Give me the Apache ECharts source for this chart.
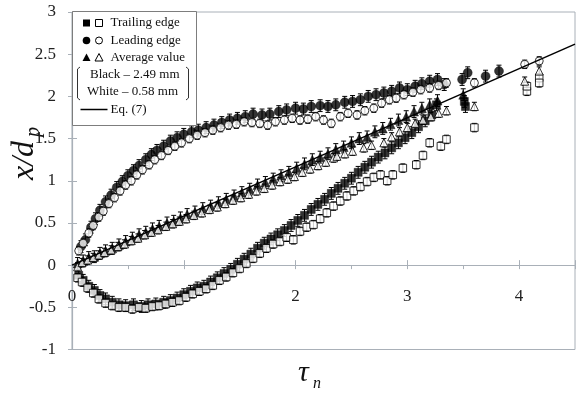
<!DOCTYPE html>
<html>
<head>
<meta charset="utf-8">
<script src="https://cdn.jsdelivr.net/npm/echarts@6/dist/echarts.min.js"></script>
<style>
  html, body { margin: 0; padding: 0; background: #fff; }
  #chart { width: 578px; height: 399px; }
</style>
</head>
<body>
<div id="chart"></div>
<script>
// Front positions x/d_p against normalised time tau_n
// Black markers: 2.49 mm particles, white markers: 0.58 mm particles

const xTickLabels = { 0: '0', 2: '2', 3: '3', 4: '4' };

// Trailing edge (squares)
const trailingBlack = [
  [0.06,-0.12],[0.10,-0.18],[0.15,-0.25],[0.20,-0.30],[0.25,-0.36],[0.30,-0.40],[0.36,-0.44],
  [0.42,-0.47],[0.48,-0.48],[0.55,-0.47],[0.62,-0.49],[0.68,-0.47],[0.75,-0.46],[0.82,-0.44],
  [0.88,-0.42],[0.94,-0.39],[1.00,-0.35],[1.06,-0.31],[1.12,-0.27],[1.18,-0.25],[1.24,-0.20],
  [1.30,-0.15],[1.36,-0.10],[1.42,-0.05],[1.48,0.01],[1.54,0.07],[1.60,0.13],[1.66,0.20],
  [1.72,0.26],[1.78,0.31],[1.84,0.36],[1.90,0.41],[1.96,0.47],[2.02,0.53],[2.08,0.59],
  [2.14,0.66],[2.20,0.72],[2.26,0.78],[2.32,0.85],[2.38,0.91],[2.44,0.97],[2.50,1.03],
  [2.56,1.10],[2.62,1.16],[2.68,1.22],[2.74,1.28],[2.80,1.33],[2.86,1.39],[2.92,1.45],
  [2.98,1.51],[3.04,1.57],[3.10,1.64],[3.16,1.71],[3.22,1.78],[3.26,1.90],[3.51,1.94],[3.52,1.88]
];
const trailingWhite = [
  [0.05,-0.15],[0.09,-0.20],[0.14,-0.27],[0.19,-0.33],[0.24,-0.40],[0.30,-0.45],[0.36,-0.48],
  [0.42,-0.50],[0.48,-0.50],[0.54,-0.52],[0.60,-0.50],[0.66,-0.51],[0.72,-0.49],[0.78,-0.48],
  [0.84,-0.46],[0.90,-0.44],[0.96,-0.42],[1.02,-0.38],[1.08,-0.34],[1.14,-0.31],[1.20,-0.28],
  [1.26,-0.24],[1.32,-0.18],[1.38,-0.14],[1.44,-0.09],[1.50,-0.04],[1.56,0.02],[1.62,0.08],
  [1.68,0.14],[1.74,0.20],[1.80,0.25],[1.86,0.28],[1.92,0.33],[1.98,0.30],[2.04,0.40],
  [2.10,0.45],[2.16,0.48],[2.22,0.55],[2.28,0.62],[2.34,0.70],[2.40,0.76],[2.46,0.82],
  [2.52,0.88],[2.58,0.93],[2.64,0.99],[2.70,1.04],[2.76,1.07],[2.82,1.00],[2.87,1.07],
  [2.96,1.15],[3.08,1.19],[3.14,1.30],[3.20,1.45],[3.30,1.41],[3.35,1.49],[3.60,1.63],
  [4.07,2.06],[4.07,2.12],[4.18,2.22],[4.18,2.16]
];

// Leading edge (circles)
const leadingBlack = [
  [0.08,0.22],[0.12,0.30],[0.17,0.45],[0.21,0.55],[0.25,0.65],[0.30,0.75],[0.35,0.83],
  [0.40,0.92],[0.45,0.99],[0.50,1.06],[0.55,1.12],[0.60,1.18],[0.66,1.25],[0.71,1.31],
  [0.76,1.36],[0.82,1.41],[0.88,1.47],[0.94,1.51],[1.00,1.55],[1.07,1.58],[1.13,1.60],
  [1.20,1.63],[1.27,1.66],[1.34,1.69],[1.41,1.72],[1.48,1.74],[1.55,1.76],[1.62,1.79],
  [1.70,1.78],[1.77,1.79],[1.85,1.82],[1.92,1.84],[2.00,1.86],[2.07,1.85],[2.14,1.88],
  [2.22,1.89],[2.29,1.88],[2.36,1.90],[2.44,1.93],[2.51,1.94],[2.58,1.96],[2.65,2.00],
  [2.72,2.02],[2.79,2.04],[2.86,2.06],[2.93,2.10],[3.00,2.08],[3.07,2.12],[3.13,2.15],
  [3.20,2.18],[3.27,2.20],[3.33,2.14],[3.49,2.20],[3.54,2.28],[3.70,2.24],[3.82,2.30]
];
const leadingWhite = [
  [0.06,0.17],[0.10,0.26],[0.15,0.38],[0.19,0.47],[0.24,0.57],[0.28,0.64],[0.33,0.73],
  [0.38,0.80],[0.43,0.88],[0.48,0.95],[0.53,1.00],[0.58,1.07],[0.63,1.13],[0.69,1.19],
  [0.74,1.25],[0.80,1.30],[0.86,1.36],[0.92,1.41],[0.98,1.45],[1.05,1.50],[1.12,1.54],
  [1.19,1.57],[1.26,1.60],[1.33,1.63],[1.40,1.66],[1.47,1.67],[1.54,1.70],[1.61,1.69],
  [1.68,1.68],[1.75,1.66],[1.82,1.70],[1.90,1.72],[1.97,1.74],[2.04,1.72],[2.11,1.73],
  [2.18,1.76],[2.25,1.72],[2.32,1.68],[2.40,1.76],[2.47,1.80],[2.55,1.78],[2.62,1.83],
  [2.70,1.86],[2.77,1.92],[2.84,1.96],[2.90,1.98],[2.97,2.02],[3.05,2.05],[3.12,2.08],
  [3.20,2.10],[3.28,2.13],[3.35,2.16],[3.60,2.16],[4.05,2.38],[4.18,2.42]
];

// Average value (triangles)
const averageBlack = [
  [0.05,0.02],[0.10,0.05],[0.15,0.09],[0.20,0.10],[0.25,0.14],[0.30,0.17],[0.36,0.20],
  [0.42,0.24],[0.48,0.28],[0.54,0.32],[0.60,0.36],[0.66,0.39],[0.72,0.43],[0.78,0.46],
  [0.85,0.50],[0.91,0.52],[0.97,0.56],[1.03,0.60],[1.10,0.63],[1.17,0.67],[1.24,0.70],
  [1.31,0.74],[1.38,0.78],[1.45,0.82],[1.52,0.86],[1.59,0.90],[1.66,0.95],[1.73,0.98],
  [1.80,1.02],[1.87,1.06],[1.94,1.10],[2.01,1.15],[2.08,1.20],[2.15,1.25],[2.22,1.28],
  [2.29,1.32],[2.36,1.37],[2.43,1.40],[2.50,1.45],[2.57,1.50],[2.64,1.52],[2.71,1.58],
  [2.78,1.62],[2.85,1.67],[2.92,1.72],[2.99,1.76],[3.06,1.82],[3.13,1.86],[3.20,1.90],
  [3.27,1.95],[3.50,2.02]
];
const averageWhite = [
  [0.05,-0.02],[0.09,0.03],[0.14,0.06],[0.19,0.09],[0.24,0.12],[0.29,0.15],[0.35,0.18],
  [0.41,0.22],[0.47,0.25],[0.53,0.29],[0.59,0.32],[0.65,0.36],[0.71,0.39],[0.77,0.42],
  [0.84,0.46],[0.90,0.49],[0.96,0.52],[1.02,0.55],[1.09,0.59],[1.16,0.62],[1.23,0.66],
  [1.30,0.69],[1.37,0.73],[1.44,0.77],[1.51,0.80],[1.58,0.84],[1.65,0.88],[1.72,0.91],
  [1.79,0.95],[1.86,0.99],[1.93,1.02],[1.99,1.05],[2.06,1.10],[2.13,1.14],[2.20,1.18],
  [2.27,1.22],[2.34,1.27],[2.37,1.29],[2.44,1.32],[2.51,1.35],[2.61,1.39],[2.68,1.42],
  [2.79,1.45],[2.86,1.52],[2.93,1.58],[3.00,1.63],[3.07,1.68],[3.14,1.72],[3.21,1.76],
  [3.28,1.80],[3.35,1.83],[3.60,1.88],[4.05,2.18],[4.18,2.30]
];

// Eq. (7)
const eqLine = [[0, 0], [4.5, 2.62]];

// Half-length of the error bars
const errBlack = 0.07;
const errWhite = 0.05;

const SERIF = 'Liberation Serif, Times New Roman, serif';
const AXIS_GREY = '#a9b0b8';

// Plot frame (px); the tau axis sits on the x/d_p = 0 line
const GRID = { left: 72, right: -3, top: 12, bottom: 49.5 };
const Y_MIN = -1, Y_MAX = 3;
const plotH = 399 - GRID.top - GRID.bottom;
const zeroOffset = -plotH * (0 - Y_MIN) / (Y_MAX - Y_MIN);

function errorBars(data, err) {
  return {
    type: 'custom',
    silent: true,
    z: 1,
    encode: { x: 0, y: 1 },
    data: data,
    renderItem: function (params, api) {
      const x = api.value(0), y = api.value(1);
      const top = api.coord([x, y + err]);
      const bot = api.coord([x, y - err]);
      const w = 2.5;
      const st = { stroke: '#000', lineWidth: 1 };
      return {
        type: 'group',
        children: [
          { type: 'line', shape: { x1: top[0], y1: top[1], x2: bot[0], y2: bot[1] }, style: st },
          { type: 'line', shape: { x1: top[0] - w, y1: top[1], x2: top[0] + w, y2: top[1] }, style: st },
          { type: 'line', shape: { x1: bot[0] - w, y1: bot[1], x2: bot[0] + w, y2: bot[1] }, style: st }
        ]
      };
    }
  };
}

function markers(data, symbol, size, filled, z) {
  return {
    type: 'scatter',
    data: data,
    symbol: symbol,
    symbolSize: size,
    z: z,
    itemStyle: filled
      ? { color: '#000', borderColor: '#000', borderWidth: 0.5 }
      : { color: '#fff', borderColor: '#000', borderWidth: 1 },
    emphasis: { disabled: true }
  };
}

// Legend drawing helpers
const LX1 = 86.5, LX2 = 99, LTX = 110.5;
function legendText(text, x, y) {
  return { type: 'text', x: x, y: y, style: { text: text, font: '13px ' + SERIF, fill: '#111', align: 'left', verticalAlign: 'middle' }, z: 101 };
}

const chart = echarts.init(document.getElementById('chart'), null, { renderer: 'canvas' });
chart.setOption({
  animation: false,
  backgroundColor: '#fff',
  grid: { left: GRID.left, right: GRID.right, top: GRID.top, bottom: GRID.bottom, show: true, borderColor: AXIS_GREY, borderWidth: 1, backgroundColor: 'transparent' },
  xAxis: [
    {
      type: 'value', min: 0, max: 4.5, interval: 1, position: 'bottom', offset: zeroOffset,
      axisLine: { show: true, onZero: false, lineStyle: { color: AXIS_GREY, width: 1.2 } },
      axisTick: { show: true, inside: true, length: 5, lineStyle: { color: AXIS_GREY } },
      splitLine: { show: false },
      axisLabel: {
        margin: 23, fontFamily: SERIF, fontSize: 17, color: '#222',
        formatter: function (v) { return xTickLabels[v] !== undefined ? xTickLabels[v] : ''; }
      }
    },
    {
      type: 'value', position: 'top', min: 0, max: 4.5, interval: 0.5,
      axisLine: { show: false },
      axisTick: { show: true, inside: true, length: 4, lineStyle: { color: AXIS_GREY } },
      axisLabel: { show: false }, splitLine: { show: false }
    }
  ],
  yAxis: [
    {
      type: 'value', min: Y_MIN, max: Y_MAX, interval: 0.5,
      axisLine: { show: true, onZero: false, lineStyle: { color: AXIS_GREY, width: 1.2 } },
      axisTick: { show: true, inside: true, length: 5, lineStyle: { color: AXIS_GREY } },
      splitLine: { show: false },
      axisLabel: { margin: 16, fontFamily: SERIF, fontSize: 17, color: '#222' }
    },
    {
      type: 'value', position: 'right', min: Y_MIN, max: Y_MAX, interval: 0.5,
      axisLine: { show: false },
      axisTick: { show: true, inside: true, length: 4, lineStyle: { color: AXIS_GREY } },
      axisLabel: { show: false }, splitLine: { show: false }
    }
  ],
  series: [
    errorBars(trailingBlack, errBlack),
    errorBars(leadingBlack, errBlack),
    errorBars(averageBlack, errBlack),
    errorBars(trailingWhite, errWhite),
    errorBars(leadingWhite, errWhite),
    errorBars(averageWhite, errWhite),
    markers(trailingBlack, 'rect', 8, true, 3),
    markers(leadingBlack, 'circle', 9, true, 3),
    markers(averageBlack, 'triangle', 9, true, 3),
    markers(trailingWhite, 'rect', 7.5, false, 4),
    markers(leadingWhite, 'circle', 8, false, 4),
    markers(averageWhite, 'triangle', 8, false, 4),
    {
      type: 'line', data: eqLine, symbol: 'none', z: 5,
      lineStyle: { color: '#000', width: 1.5 }, emphasis: { disabled: true }
    }
  ],
  graphic: [
    // legend frame
    { type: 'rect', shape: { x: 72.5, y: 11.5, width: 124, height: 114 }, style: { fill: '#fff', stroke: '#7d7d7d', lineWidth: 1 }, z: 100 },
    { type: 'rect', shape: { x: LX1 - 3.5, y: 23 - 3.5, width: 7, height: 7 }, style: { fill: '#000' }, z: 101 },
    { type: 'rect', shape: { x: LX2 - 3.5, y: 23 - 3.5, width: 7, height: 7 }, style: { fill: '#fff', stroke: '#000', lineWidth: 1 }, z: 101 },
    legendText('Trailing edge', LTX, 23),
    { type: 'circle', shape: { cx: LX1, cy: 40.5, r: 3.8 }, style: { fill: '#000' }, z: 101 },
    { type: 'circle', shape: { cx: LX2, cy: 40.5, r: 3.5 }, style: { fill: '#fff', stroke: '#000', lineWidth: 1 }, z: 101 },
    legendText('Leading edge', LTX, 40.5),
    { type: 'polygon', shape: { points: [[LX1, 53.5], [LX1 + 4, 61], [LX1 - 4, 61]] }, style: { fill: '#000' }, z: 101 },
    { type: 'polygon', shape: { points: [[LX2, 53.5], [LX2 + 4, 61], [LX2 - 4, 61]] }, style: { fill: '#fff', stroke: '#000', lineWidth: 1 }, z: 101 },
    legendText('Average value', LTX, 57.5),
    { type: 'polyline', shape: { points: [[80, 67], [77.5, 69], [77.5, 98], [80, 100]] }, style: { stroke: '#333', lineWidth: 1, fill: null }, z: 101 },
    { type: 'polyline', shape: { points: [[186, 67], [188.5, 69], [188.5, 98], [186, 100]] }, style: { stroke: '#333', lineWidth: 1, fill: null }, z: 101 },
    legendText('Black \u2013 2.49 mm', 90, 75),
    legendText('White \u2013 0.58 mm', 87, 92),
    { type: 'line', shape: { x1: 80.5, y1: 109.5, x2: 107.5, y2: 109.5 }, style: { stroke: '#000', lineWidth: 1.5 }, z: 101 },
    legendText('Eq. (7)', LTX, 109.5),
    // x-axis title
    { type: 'text', x: 298, y: 373, style: { text: '\u03c4', font: 'italic 30px ' + SERIF, fill: '#111', align: 'left', verticalAlign: 'middle' } },
    { type: 'text', x: 313, y: 384, style: { text: 'n', font: 'italic 16px ' + SERIF, fill: '#111', align: 'left', verticalAlign: 'middle' } },
    // y-axis title
    {
      type: 'group', x: 25, y: 150, rotation: Math.PI / 2,
      children: [
        { type: 'text', x: -30, y: 0, style: { text: 'x/d', font: 'italic 32px ' + SERIF, fill: '#111', align: 'left', verticalAlign: 'middle' } },
        { type: 'text', x: 13, y: 9, style: { text: 'p', font: 'italic 20px ' + SERIF, fill: '#111', align: 'left', verticalAlign: 'middle' } }
      ]
    }
  ]
});
</script>
